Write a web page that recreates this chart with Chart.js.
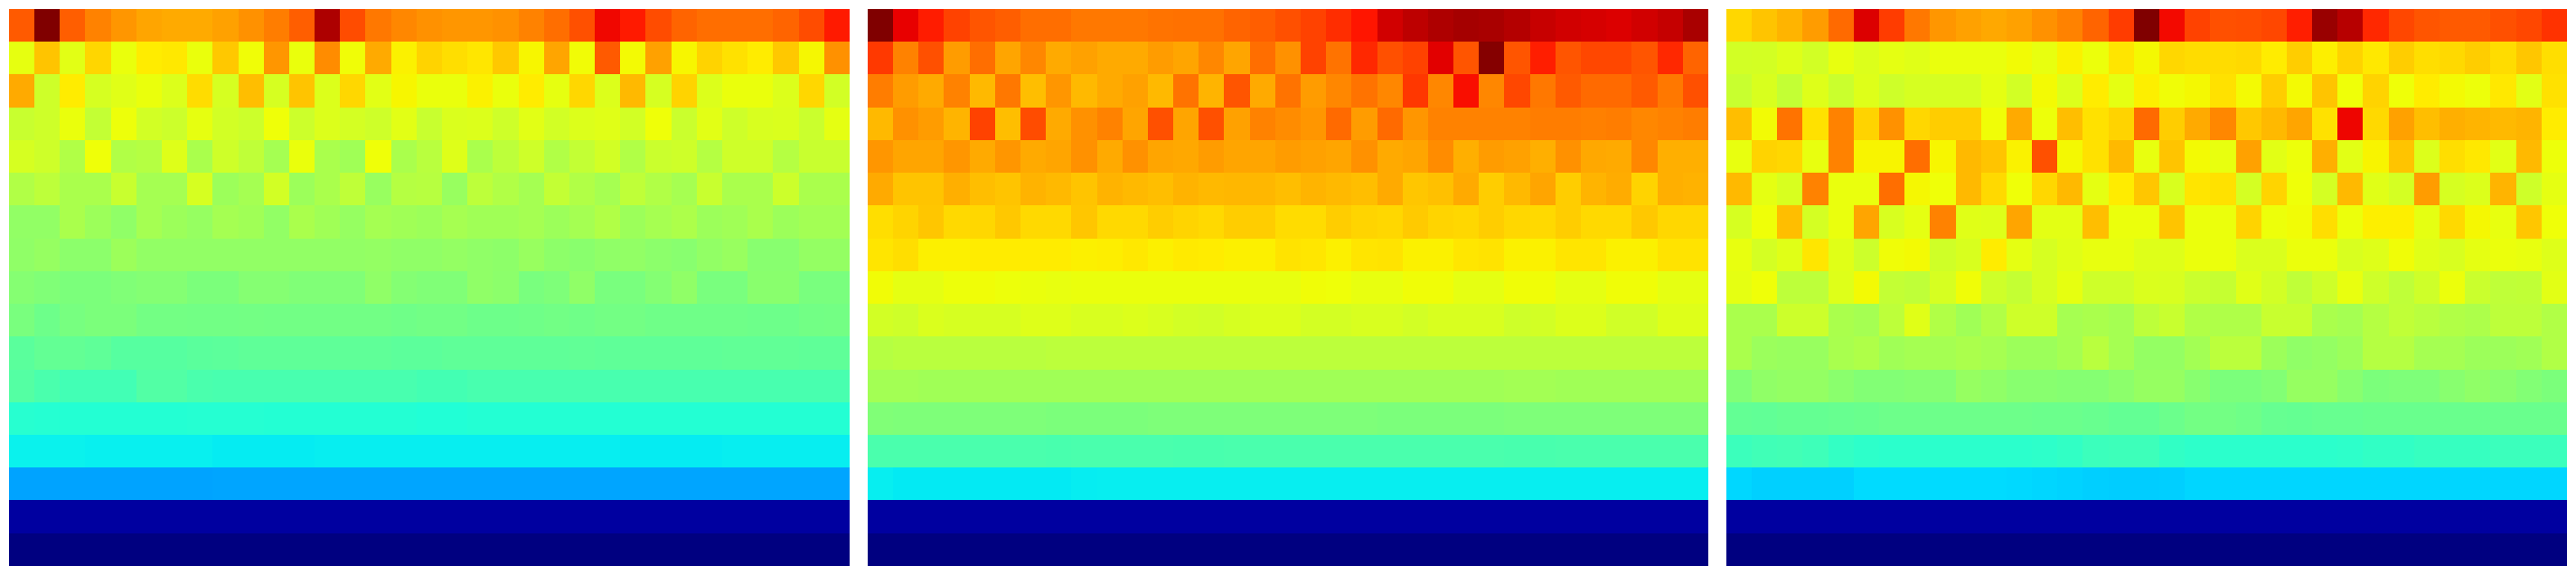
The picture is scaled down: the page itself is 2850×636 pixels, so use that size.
<!DOCTYPE html>
<html>
<head>
<meta charset="utf-8">
<title>Heatmaps</title>
<script src="https://cdn.jsdelivr.net/npm/chart.js@4"></script>
<style>
  html, body { margin: 0; padding: 0; background: #fff; }
  canvas { position: absolute; top: 10px; }
</style>
</head>
<body>
<canvas id="left" width="930" height="616" style="left:10px"></canvas>
<canvas id="middle" width="930" height="616" style="left:960px"></canvas>
<canvas id="right" width="930" height="616" style="left:1910px"></canvas>
<script>
// cell values on the jet scale, in thousandths, top row first
const leftCells = [
  [815,1000,810,772,751,735,730,730,740,757,778,810,961,830,783,767,757,751,751,757,772,793,825,903,883,830,804,793,793,793,804,830,883],
  [630,703,625,683,635,660,664,635,698,642,751,635,762,642,730,655,687,675,666,698,650,735,643,815,645,740,650,687,672,660,698,648,757],
  [730,600,660,610,622,635,617,677,610,709,610,703,617,682,625,650,635,635,655,635,660,630,682,617,714,610,687,617,635,635,617,682,605],
  [593,600,635,587,638,605,598,630,605,598,640,598,617,608,600,625,593,615,617,600,625,605,617,622,605,640,595,625,600,612,615,595,628],
  [610,600,565,640,565,570,620,557,600,582,550,635,557,545,640,557,575,620,557,580,600,565,587,605,565,595,600,570,600,600,570,593,593],
  [565,580,557,557,593,550,550,610,540,550,605,540,557,582,535,570,572,535,580,565,550,587,565,552,582,565,552,593,557,557,598,557,557],
  [527,527,557,540,525,550,540,532,550,545,527,557,545,532,550,545,540,552,545,545,550,540,550,565,540,552,560,540,545,557,540,548,548],
  [525,532,520,520,540,527,527,527,527,527,527,527,527,527,530,525,525,530,525,522,535,522,517,525,527,520,515,527,535,515,515,530,530],
  [512,505,500,500,505,510,510,500,500,512,512,505,505,505,525,510,505,505,525,520,497,503,525,497,497,510,525,497,497,517,517,497,497],
  [497,482,495,500,500,490,490,488,488,490,488,488,488,488,488,485,488,488,482,482,485,488,485,490,490,485,485,485,485,482,482,488,490],
  [460,470,470,465,455,455,455,460,462,465,465,465,465,465,465,462,462,465,465,465,465,465,468,465,465,465,465,465,468,468,468,465,465],
  [452,440,430,430,430,450,450,440,437,437,437,437,437,437,437,437,432,432,437,437,437,437,437,437,437,437,437,437,437,437,437,437,437],
  [397,395,393,393,393,393,393,395,395,395,393,393,393,393,393,393,390,390,393,393,393,393,393,393,393,393,393,393,393,393,393,393,393],
  [362,362,362,360,360,360,360,360,356,356,356,356,358,358,358,358,358,358,358,358,358,358,358,358,356,356,356,356,358,358,358,358,358],
  [285,285,285,285,285,285,285,285,287,287,287,287,287,287,287,287,287,287,287,287,287,287,287,287,287,287,287,287,287,287,287,287,287],
  [28,28,28,28,28,28,28,28,28,28,28,28,28,28,28,28,28,28,28,28,28,28,28,28,28,28,28,28,28,28,28,28,28],
  [0,0,0,0,0,0,0,0,0,0,0,0,0,0,0,0,0,0,0,0,0,0,0,0,0,0,0,0,0,0,0,0,0],
];

const middleCells = [
  [1000,910,880,840,820,810,793,793,783,783,783,788,790,790,804,810,825,840,862,888,930,947,960,968,964,955,938,930,925,920,930,940,964],
  [850,772,825,745,793,735,767,730,740,730,730,745,735,767,735,793,757,840,788,868,825,840,915,820,995,820,878,820,835,835,820,868,804],
  [778,745,730,772,714,783,709,751,714,730,740,714,788,719,820,730,788,745,767,788,767,852,767,895,767,835,783,815,798,798,815,783,825],
  [714,757,745,719,840,709,830,730,757,772,735,825,735,825,740,772,762,751,798,745,798,751,772,772,772,772,778,778,775,778,767,772,778],
  [751,735,735,751,730,751,730,735,757,730,757,735,732,745,735,735,745,740,735,757,730,735,762,725,745,740,725,757,732,730,767,725,725],
  [730,703,703,725,709,703,721,714,703,721,714,709,720,714,716,716,709,719,714,709,730,700,707,730,693,714,735,693,719,728,687,725,722],
  [675,685,700,680,682,698,680,680,700,680,680,693,685,680,693,693,677,677,693,685,682,696,685,682,693,682,680,693,680,680,698,682,682],
  [668,675,656,656,660,660,660,660,656,658,664,656,662,660,656,656,670,666,656,668,670,655,655,666,670,655,655,668,668,655,655,670,670],
  [643,628,628,638,642,638,635,632,635,635,635,635,635,635,635,632,632,642,640,632,632,642,642,628,628,642,642,628,628,642,642,628,628],
  [605,600,615,610,610,610,620,620,612,612,617,612,605,603,610,617,617,607,607,612,612,605,612,612,612,600,605,617,617,603,603,620,620],
  [570,575,575,575,575,575,575,578,578,578,578,578,578,578,578,578,578,578,578,578,578,578,578,578,578,578,578,578,578,578,578,578,578],
  [548,548,545,545,545,545,545,545,545,545,545,545,545,545,545,545,545,545,545,545,545,545,545,545,545,548,548,545,545,545,545,545,545],
  [505,503,503,503,503,503,503,500,500,500,500,503,503,503,503,503,503,503,503,503,500,500,500,500,500,503,503,503,503,503,503,503,503],
  [440,440,440,440,440,440,440,438,440,440,440,440,438,438,440,440,440,440,440,440,440,440,440,440,440,438,438,440,440,440,440,440,440],
  [358,354,354,354,354,354,354,354,357,358,358,358,358,358,358,358,358,358,358,358,358,358,358,358,358,358,358,358,358,358,358,358,358],
  [28,28,28,28,28,28,28,28,28,28,28,28,28,28,28,28,28,28,28,28,28,28,28,28,28,28,28,28,28,28,28,28,28],
  [0,0,0,0,0,0,0,0,0,0,0,0,0,0,0,0,0,0,0,0,0,0,0,0,0,0,0,0,0,0,0,0,0],
];

const rightCells = [
  [682,703,719,745,798,920,847,783,751,740,732,740,757,772,804,847,1000,900,840,825,827,835,878,978,952,868,835,820,815,815,825,835,857],
  [605,607,620,605,632,617,628,622,634,634,634,644,632,654,637,668,647,682,677,677,680,660,693,657,687,664,693,675,680,693,677,700,675],
  [593,613,587,620,595,620,600,610,610,610,628,605,645,617,660,628,657,642,647,672,645,693,645,703,640,687,640,660,645,638,664,625,672],
  [709,644,788,672,772,687,757,682,693,693,642,730,638,709,672,687,798,693,730,767,698,714,735,672,905,680,740,709,725,719,714,719,660],
  [632,687,682,632,772,652,652,793,650,714,703,654,825,647,672,714,632,703,645,632,740,625,638,725,625,652,703,617,675,664,625,714,638],
  [714,628,612,772,634,634,793,648,640,714,680,640,682,714,628,660,700,613,668,672,608,685,640,608,714,622,608,745,610,617,719,600,628],
  [610,640,709,608,634,735,612,628,772,622,620,735,626,626,709,636,636,703,636,636,687,638,643,675,637,657,657,628,680,648,632,700,640],
  [632,608,622,666,622,598,642,645,602,613,660,628,610,622,632,632,620,620,636,636,615,615,636,636,612,620,642,622,612,628,636,632,620],
  [628,640,580,580,620,645,587,582,610,642,600,588,610,630,600,600,615,612,595,590,622,605,582,600,632,600,582,600,637,595,582,584,625],
  [557,557,598,598,557,550,580,622,565,545,565,600,600,552,557,550,580,593,565,563,563,593,593,557,550,570,583,575,565,560,580,580,565],
  [557,538,535,535,555,563,545,550,550,558,552,540,540,550,575,550,530,530,548,577,577,540,525,530,540,570,570,550,550,540,540,545,565],
  [508,525,530,530,518,508,508,512,512,532,525,515,515,512,512,520,532,532,515,500,500,508,532,532,515,500,503,503,515,525,518,508,500],
  [470,468,472,472,475,478,482,482,482,482,482,482,480,480,476,470,470,480,490,490,485,474,472,475,475,478,478,478,478,478,478,478,478],
  [422,428,430,425,412,405,402,402,402,402,402,402,405,410,422,424,424,410,405,402,402,402,402,402,405,410,410,416,416,416,422,422,422],
  [336,329,329,329,329,340,340,340,340,340,340,338,335,332,328,326,326,328,335,335,335,335,335,335,335,335,335,335,335,335,335,335,335],
  [28,28,28,28,28,28,28,28,28,28,28,28,28,28,28,28,28,28,28,28,28,28,28,28,28,28,28,28,28,28,28,28,28],
  [0,0,0,0,0,0,0,0,0,0,0,0,0,0,0,0,0,0,0,0,0,0,0,0,0,0,0,0,0,0,0,0,0],
];

const columns = [...Array(33).keys()].map((val) => `${val + 1}`);

const jetRed = [[0, 0], [0.35, 0], [0.66, 1], [0.89, 1], [1, 0.5]];
const jetGreen = [[0, 0], [0.125, 0], [0.375, 1], [0.64, 1], [0.91, 0], [1, 0]];
const jetBlue = [[0, 0.5], [0.11, 1], [0.34, 1], [0.65, 0], [1, 0]];

function channel(stops, v) {
  for (let i = 1; i < stops.length; i++) {
    if (v <= stops[i][0]) {
      const [x0, y0] = stops[i - 1];
      const [x1, y1] = stops[i];
      return Math.round(255 * (y0 + ((y1 - y0) * (v - x0)) / (x1 - x0)));
    }
  }
  return Math.round(255 * stops[stops.length - 1][1]);
}

function jet(cell) {
  const v = cell / 1000;
  return `rgb(${channel(jetRed, v)},${channel(jetGreen, v)},${channel(jetBlue, v)})`;
}

// snap the bars to whole pixels, otherwise every cell edge gets blurred
const snap = (px) => Math.floor(px + 0.45);
const snapCells = {
  id: 'snapCells',
  afterDatasetsUpdate(chart) {
    chart.data.datasets.forEach((_, i) => {
      chart.getDatasetMeta(i).data.forEach((bar) => {
        const left = snap(bar.x - bar.width / 2);
        const right = snap(bar.x + bar.width / 2);
        bar.x = (left + right) / 2;
        bar.width = right - left;
        bar.y = snap(bar.y);
        bar.base = snap(bar.base);
      });
    });
  },
};

function drawHeatmap(id, cells) {
  new Chart(document.getElementById(id), {
    type: 'bar',
    plugins: [snapCells],
    data: {
      labels: columns,
      datasets: cells.map((row, i) => ({
        label: `row ${i + 1}`,
        data: row.map(() => 1),
        backgroundColor: row.map(jet),
        borderWidth: 0,
        inflateAmount: 0,
        barPercentage: 1,
        categoryPercentage: 1,
      })),
    },
    options: {
      responsive: false,
      animation: false,
      plugins: { legend: { display: false }, tooltip: { enabled: false } },
      scales: {
        x: { stacked: true, display: false },
        y: { stacked: true, display: false, reverse: true, min: 0, max: cells.length },
      },
    },
  });
}

drawHeatmap('left', leftCells);
drawHeatmap('middle', middleCells);
drawHeatmap('right', rightCells);
</script>
</body>
</html>
